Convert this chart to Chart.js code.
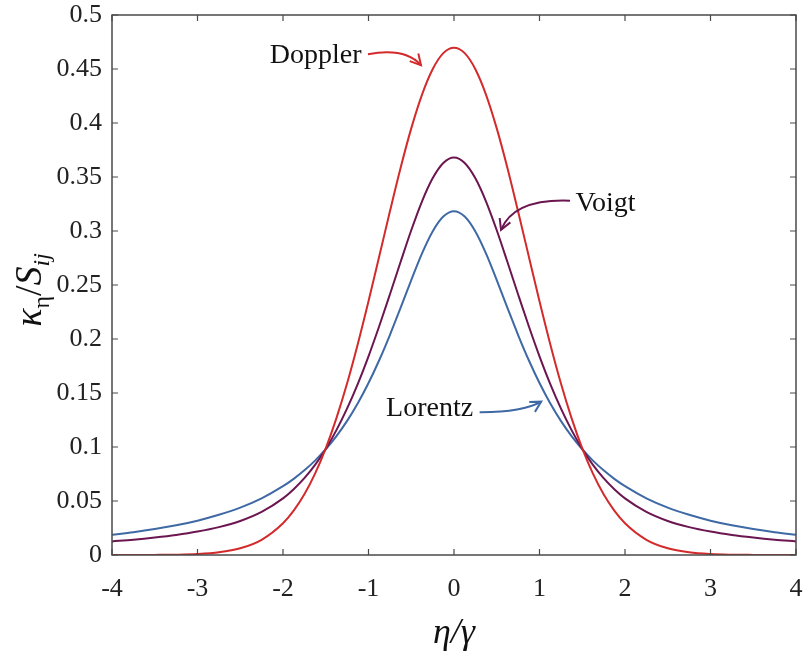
<!DOCTYPE html>
<html>
<head>
<meta charset="utf-8">
<script src="https://cdn.jsdelivr.net/npm/chart.js@4.4.1/dist/chart.umd.min.js"></script>
<style>
  html, body { margin: 0; padding: 0; background: #fff; }
  #wrap { width: 804px; height: 653px; position: relative; }
</style>
</head>
<body>
<div id="wrap"><canvas id="lineShapes"></canvas></div>
<script>
// eta / gamma (denser sampling near the centre)
const xValues = [-4, -3.75, -3.5, -3.25, -3, -2.75, -2.5, -2.25, -2,
  -1.875, -1.75, -1.625, -1.5, -1.375, -1.25, -1.125, -1, -0.875, -0.75, -0.625, -0.5, -0.375, -0.25, -0.125,
  0, 0.125, 0.25, 0.375, 0.5, 0.625, 0.75, 0.875, 1, 1.125, 1.25, 1.375, 1.5, 1.625, 1.75, 1.875,
  2, 2.25, 2.5, 2.75, 3, 3.25, 3.5, 3.75, 4];

// kappa / S_ij
const dopplerValues = [0.0000, 0.0000, 0.0001, 0.0003, 0.0009, 0.0025, 0.0062, 0.0141, 0.0294,
  0.0411, 0.0562, 0.0753, 0.0987, 0.1267, 0.1590, 0.1954, 0.2349, 0.2763, 0.3180, 0.3583, 0.3950, 0.4261, 0.4498, 0.4647,
  0.4697, 0.4647, 0.4498, 0.4261, 0.3950, 0.3583, 0.3180, 0.2763, 0.2349, 0.1954, 0.1590, 0.1267, 0.0987, 0.0753, 0.0562, 0.0411,
  0.0294, 0.0141, 0.0062, 0.0025, 0.0009, 0.0003, 0.0001, 0.0000, 0.0000];
const voigtValues = [0.0126, 0.0142, 0.0162, 0.0186, 0.0217, 0.0258, 0.0315, 0.0399, 0.0524,
  0.0609, 0.0711, 0.0834, 0.0982, 0.1156, 0.1357, 0.1585, 0.1840, 0.2118, 0.2412, 0.2713, 0.3007, 0.3273, 0.3488, 0.3630,
  0.3680, 0.3630, 0.3488, 0.3273, 0.3007, 0.2713, 0.2412, 0.2118, 0.1840, 0.1585, 0.1357, 0.1156, 0.0982, 0.0834, 0.0711, 0.0609,
  0.0524, 0.0399, 0.0315, 0.0258, 0.0217, 0.0186, 0.0162, 0.0142, 0.0126];
const lorentzValues = [0.0187, 0.0211, 0.0240, 0.0275, 0.0318, 0.0372, 0.0439, 0.0525, 0.0637,
  0.0705, 0.0784, 0.0874, 0.0979, 0.1101, 0.1242, 0.1405, 0.1592, 0.1803, 0.2037, 0.2289, 0.2546, 0.2791, 0.2996, 0.3134,
  0.3183, 0.3134, 0.2996, 0.2791, 0.2546, 0.2289, 0.2037, 0.1803, 0.1592, 0.1405, 0.1242, 0.1101, 0.0979, 0.0874, 0.0784, 0.0705,
  0.0637, 0.0525, 0.0439, 0.0372, 0.0318, 0.0275, 0.0240, 0.0211, 0.0187];

const xTicks = [-4, -3, -2, -1, 0, 1, 2, 3, 4];
const yTicks = [0, 0.05, 0.1, 0.15, 0.2, 0.25, 0.3, 0.35, 0.4, 0.45, 0.5];
const yTickLabels = ["0", "0.05", "0.1", "0.15", "0.2", "0.25", "0.3", "0.35", "0.4", "0.45", "0.5"];

const RED = "#d32a2b";
const PURPLE = "#6b1650";
const BLUE = "#3f69a4";
const SERIF = "'Liberation Serif', 'DejaVu Serif', serif";

const toPoints = (ys) => xValues.map((x, i) => ({ x: x, y: ys[i] }));

// labels with curved arrows, in data units
const notes = [
  { text: "Doppler", color: RED, at: [-2.155, 0.4555], from: [-1.006, 0.4637], ctrl: [-0.57, 0.470], to: [-0.386, 0.4535] },
  { text: "Voigt", color: PURPLE, at: [1.42, 0.3188], from: [1.357, 0.3280], ctrl: [0.70, 0.3300], to: [0.550, 0.3010] },
  { text: "Lorentz", color: BLUE, at: [-0.795, 0.1290], from: [0.30, 0.1322], ctrl: [0.80, 0.1320], to: [1.02, 0.1420] },
];

const framePlugin = {
  id: "frame",
  afterDraw(chart) {
    const ctx = chart.ctx;
    const a = chart.chartArea;
    const xs = chart.scales.x;
    const ys = chart.scales.y;
    ctx.save();
    // box + inner ticks
    ctx.strokeStyle = "#4a4a4a";
    ctx.lineWidth = 1.5;
    ctx.strokeRect(a.left, a.top, a.right - a.left, a.bottom - a.top);
    ctx.lineWidth = 1.2;
    ctx.beginPath();
    xTicks.forEach((t) => {
      const px = xs.getPixelForValue(t);
      ctx.moveTo(px, a.bottom); ctx.lineTo(px, a.bottom - 6);
      ctx.moveTo(px, a.top); ctx.lineTo(px, a.top + 6);
    });
    yTicks.forEach((t) => {
      const py = ys.getPixelForValue(t);
      ctx.moveTo(a.left, py); ctx.lineTo(a.left + 6, py);
      ctx.moveTo(a.right, py); ctx.lineTo(a.right - 6, py);
    });
    ctx.stroke();

    // annotations
    notes.forEach((n) => {
      const tx = xs.getPixelForValue(n.at[0]), ty = ys.getPixelForValue(n.at[1]);
      ctx.fillStyle = "#111";
      ctx.font = "28px " + SERIF;
      ctx.textAlign = "left";
      ctx.textBaseline = "alphabetic";
      ctx.fillText(n.text, tx, ty);
      const x0 = xs.getPixelForValue(n.from[0]), y0 = ys.getPixelForValue(n.from[1]);
      const cx = xs.getPixelForValue(n.ctrl[0]), cy = ys.getPixelForValue(n.ctrl[1]);
      const x1 = xs.getPixelForValue(n.to[0]), y1 = ys.getPixelForValue(n.to[1]);
      ctx.strokeStyle = n.color;
      ctx.lineWidth = 2;
      ctx.beginPath();
      ctx.moveTo(x0, y0);
      ctx.quadraticCurveTo(cx, cy, x1, y1);
      ctx.stroke();
      const ang = Math.atan2(y1 - cy, x1 - cx);
      ctx.beginPath();
      ctx.moveTo(x1 - 12 * Math.cos(ang - 0.5), y1 - 12 * Math.sin(ang - 0.5));
      ctx.lineTo(x1, y1);
      ctx.lineTo(x1 - 12 * Math.cos(ang + 0.5), y1 - 12 * Math.sin(ang + 0.5));
      ctx.stroke();
    });

    // axis titles
    ctx.fillStyle = "#111";
    ctx.textBaseline = "alphabetic";
    ctx.font = "italic 36px " + SERIF;
    ctx.textAlign = "center";
    ctx.fillText("\u03b7/\u03b3", (a.left + a.right) / 2, 643);

    // y title: kappa_eta / S_ij
    ctx.save();
    ctx.translate(41, 290);
    ctx.rotate(-Math.PI / 2);
    const parts = [
      { t: "\u03ba", f: "italic 38px " + SERIF, dy: 0 },
      { t: "\u03b7", f: "24px " + SERIF, dy: 8 },
      { t: "/", f: "38px " + SERIF, dy: 0 },
      { t: "S", f: "italic 38px " + SERIF, dy: 0 },
      { t: "ij", f: "italic 24px " + SERIF, dy: 8 },
    ];
    let total = 0;
    parts.forEach((p) => { ctx.font = p.f; p.w = ctx.measureText(p.t).width; total += p.w; });
    let cur = -total / 2;
    ctx.textAlign = "left";
    parts.forEach((p) => { ctx.font = p.f; ctx.fillText(p.t, cur, p.dy); cur += p.w; });
    ctx.restore();
    ctx.restore();
  },
};

new Chart(document.getElementById("lineShapes"), {
  type: "line",
  data: {
    datasets: [
      { label: "Doppler", data: toPoints(dopplerValues), borderColor: RED },
      { label: "Voigt", data: toPoints(voigtValues), borderColor: PURPLE },
      { label: "Lorentz", data: toPoints(lorentzValues), borderColor: BLUE },
    ].map((d) => Object.assign(d, { borderWidth: 2, pointRadius: 0, fill: false, cubicInterpolationMode: "monotone" })),
  },
  options: {
    responsive: true,
    maintainAspectRatio: false,
    animation: false,
    layout: { padding: { top: 15, right: 8, left: 0, bottom: 0 } },
    plugins: { legend: { display: false }, tooltip: { enabled: false } },
    scales: {
      x: {
        type: "linear",
        min: -4,
        max: 4,
        afterBuildTicks: (s) => { s.ticks = xTicks.map((v) => ({ value: v })); },
        afterFit: (s) => { s.height = 98; s.paddingLeft = 0; s.paddingRight = 0; },
        grid: { display: false, drawTicks: false },
        border: { display: false },
        ticks: { color: "#222", font: { family: SERIF, size: 26 }, padding: 19, maxRotation: 0, callback: (v) => String(v) },
      },
      y: {
        type: "linear",
        min: 0,
        max: 0.5,
        afterBuildTicks: (s) => { s.ticks = yTicks.map((v) => ({ value: v })); },
        afterFit: (s) => { s.width = 112; s.paddingTop = 0; s.paddingBottom = 0; },
        grid: { display: false, drawTicks: false },
        border: { display: false },
        ticks: { color: "#222", font: { family: SERIF, size: 26 }, padding: 10, callback: (v, i) => yTickLabels[i] },
      },
    },
  },
  plugins: [framePlugin],
});
</script>
</body>
</html>
